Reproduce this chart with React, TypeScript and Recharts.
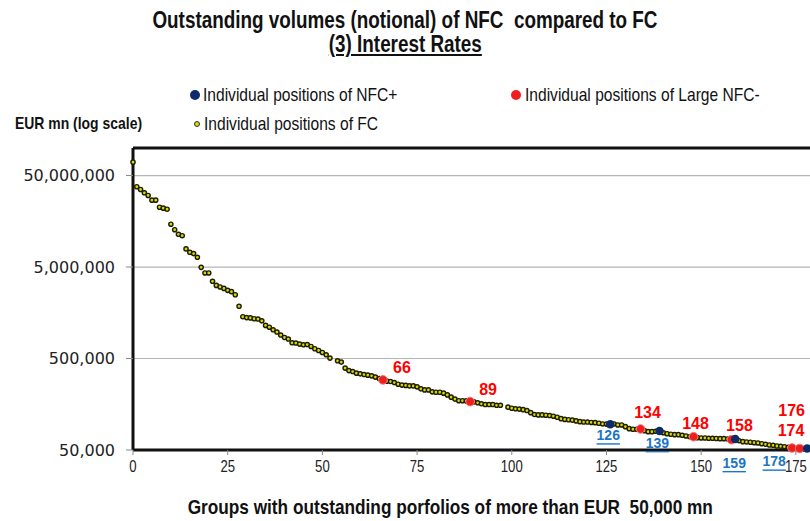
import { ScatterChart, Scatter, XAxis, YAxis, CartesianGrid, ReferenceLine } from "recharts";

const xTicks = [0, 25, 50, 75, 100, 125, 150, 175];
const yTicks = [50000, 500000, 5000000, 50000000];

// FC portfolio by rank (index = rank, null = no FC group at that rank)
const fcVolumes: (number | null)[] = [
  70000000, 37700000, 35200000, 32400000, 30300000, 26900000, 26900000, 22500000, 22000000, 21400000,
  14700000, 12800000, 11400000, 11000000, 7890000, 7240000, 7010000, 6390000, 4960000, 4310000,
  4310000, 3490000, 3150000, 3030000, 2920000, 2780000, 2690000, 2490000, 1860000, 1430000,
  1400000, 1390000, 1360000, 1350000, 1290000, 1150000, 1100000, 1030000, 973000, 902000,
  849000, 816000, 743000, 738000, 719000, 706000, 711000, 677000, 639000, 612000,
  582000, 549000, 505000, null, 472000, 457000, 393000, 369000, 360000, 346000,
  340000, 334000, 329000, 323000, 313000, 302000, null, 283000, 280000, 273000,
  262000, 256000, 254000, 251000, 251000, 245000, 233000, 227000, 227000, 216000,
  214000, 214000, 209000, 200000, 189000, 180000, 173000, 173000, 172000, null,
  168000, 164000, 160000, 157000, 157000, 157000, 154000, 154000, null, 147000,
  143000, 141000, 140000, 138000, 135000, 128000, 122000, 121000, 121000, 120000,
  119000, 117000, 114000, 110000, 108000, 107000, 106000, 104000, 102000, 101000,
  101000, 100000, 99500, 98000, 96300, 96000, null, 96300, 93900, 93900,
  90000, 85600, 84300, 84300, null, 81400, 79300, 79300, 80100, null,
  77300, 75400, 74300, 73600, 73600, 72400, 71200, 69900, null, 68200,
  67700, 67700, 67100, 67100, 66800, 66500, 66500, 66000, null, null,
  63200, 61700, 61200, 60800, 60100, 59700, 58600, 57700, 56700, 56300,
  55300, 54900, 54300, 53500, null, 52200, null, 51800, null,
];

const nfcPlusRanks = [126, 139, 159, 178];
const nfcPlusVolumes = [95600, 80700, 66000, 52000];

const largeNfcRanks = [66, 89, 134, 148, 158, 174, 176];
const largeNfcVolumes = [292000, 169000, 84900, 69900, 64800, 52600, 52000];

// where each rank label sits relative to its dot
const labelOffsets: Record<number, [number, number]> = {
  66: [19, -12],
  89: [18, -12],
  134: [7, -16],
  148: [2, -13],
  158: [8, -14],
  174: [-1, -17],
  176: [-8, -38],
  126: [-2, 11],
  139: [-2, 12],
  159: [-1, 24],
  178: [-33, 13],
};

const fcData = fcVolumes
  .map((v, i) => ({ rank: i, volume: v }))
  .filter((d) => d.volume !== null);
const nfcPlusData = nfcPlusRanks.map((r, i) => ({ rank: r, volume: nfcPlusVolumes[i] }));
const largeNfcData = largeNfcRanks.map((r, i) => ({ rank: r, volume: largeNfcVolumes[i] }));

const SANS = "'Liberation Sans', Arial, sans-serif";
const NARROW = 0.82;

// Arial Narrow look-alike: Liberation Sans squeezed horizontally
const Narrow = ({ children, style }: { children: any; style?: any }) => (
  <span style={{ display: "inline-block", transform: `scaleX(${NARROW})`, transformOrigin: "center", whiteSpace: "nowrap", ...style }}>
    {children}
  </span>
);

const XTick = (props: any) => (
  <g transform={`translate(${props.x},${props.y})`}>
    <text transform={`scale(${NARROW},1)`} textAnchor="middle" dy="0.71em" fill="#222" fontSize={16} fontFamily={SANS}>
      {props.payload.value}
    </text>
  </g>
);

const FcDot = (props: any) => (
  <circle cx={props.cx} cy={props.cy} r={2.1} fill="#d8d800" stroke="#1c1c00" strokeWidth={1.4} />
);

const RedDot = (props: any) => {
  const [dx, dy] = labelOffsets[props.payload.rank] || [0, -14];
  return (
    <g>
      <circle cx={props.cx} cy={props.cy} r={4.3} fill="#ef1e1e" stroke="#f57878" strokeWidth={1} />
      <text x={props.cx + dx} y={props.cy + dy} textAnchor="middle" dominantBaseline="central"
        fill="#ff0000" fontSize={16} fontWeight="bold" fontFamily={SANS}>
        {props.payload.rank}
      </text>
    </g>
  );
};

const BlueDot = (props: any) => {
  const [dx, dy] = labelOffsets[props.payload.rank] || [0, 12];
  return (
    <g>
      <circle cx={props.cx} cy={props.cy} r={4.3} fill="#0e2a68" />
      <text x={props.cx + dx} y={props.cy + dy} textAnchor="middle" dominantBaseline="central"
        fill="#1a75c8" fontSize={14} fontWeight="bold" textDecoration="underline" fontFamily={SANS}>
        {props.payload.rank}
      </text>
    </g>
  );
};

const abs = (left: number, top: number, extra: any = {}) => ({
  position: "absolute" as const, left, top, fontFamily: SANS, color: "#111", ...extra,
});

export default function App() {
  return (
    <div style={{ position: "fixed", left: 0, top: 0, width: 810, height: 521, overflow: "hidden", background: "#fff" }}>
      <div style={abs(5, 8, { width: 800, textAlign: "center", fontWeight: "bold", fontSize: 23, lineHeight: "24px" })}>
        <div><Narrow>Outstanding volumes (notional) of NFC&nbsp; compared to FC</Narrow></div>
        <div><Narrow style={{ textDecoration: "underline" }}>(3) Interest Rates</Narrow></div>
      </div>

      <div style={abs(190, 90, { width: 10, height: 10, borderRadius: 5, background: "#0e2a68" })} />
      <div style={abs(203, 84, { fontSize: 19, lineHeight: "22px" })}>
        <Narrow style={{ transformOrigin: "left center" }}>Individual positions of NFC+</Narrow>
      </div>
      <div style={abs(511, 90, { width: 10, height: 10, borderRadius: 5, background: "#ef1e1e" })} />
      <div style={abs(525, 84, { fontSize: 19, lineHeight: "22px" })}>
        <Narrow style={{ transformOrigin: "left center" }}>Individual positions of Large NFC-</Narrow>
      </div>
      <div style={abs(194, 121, { width: 4, height: 4, borderRadius: 3, background: "#d8d800", border: "1px solid #333" })} />
      <div style={abs(204, 113, { fontSize: 19, lineHeight: "22px" })}>
        <Narrow style={{ transformOrigin: "left center" }}>Individual positions of FC</Narrow>
      </div>
      <div style={abs(15, 114, { fontSize: 17, lineHeight: "20px", fontWeight: "bold" })}>
        <Narrow style={{ transformOrigin: "left center" }}>EUR mn (log scale)</Narrow>
      </div>

      <div style={abs(0, 495, { width: 900, textAlign: "center", fontWeight: "bold", fontSize: 21, lineHeight: "24px" })}>
        <Narrow>Groups with outstanding porfolios of more than EUR&nbsp; 50,000 mn</Narrow>
      </div>

      <div style={{ position: "absolute", left: 0, top: 0 }}>
        <ScatterChart width={815} height={521} margin={{ top: 148, right: 4, bottom: 41, left: 13 }}>
          <CartesianGrid vertical={false} stroke="#b5b5b5" strokeWidth={1.2} />
          <XAxis
            type="number"
            dataKey="rank"
            domain={[0, 179]}
            ticks={xTicks}
            height={30}
            tickSize={5}
            tickMargin={6}
            axisLine={{ stroke: "#111", strokeWidth: 3 }}
            tickLine={{ stroke: "#888" }}
            tick={<XTick />}
          />
          <YAxis
            type="number"
            dataKey="volume"
            scale="log"
            domain={[50000, 100000000]}
            ticks={yTicks}
            width={120}
            tickSize={7}
            tickMargin={11}
            axisLine={{ stroke: "#111", strokeWidth: 3 }}
            tickLine={{ stroke: "#888" }}
            tick={{ fill: "#222", fontSize: 16, fontFamily: "'DejaVu Sans', Verdana, sans-serif" }}
            tickFormatter={(v: number) => v.toLocaleString("en-US")}
          />
          <ReferenceLine y={100000000} stroke="#111" strokeWidth={3} />
          <Scatter data={fcData} shape={FcDot} isAnimationActive={false} />
          <Scatter data={largeNfcData} shape={RedDot} isAnimationActive={false} />
          <Scatter data={nfcPlusData} shape={BlueDot} isAnimationActive={false} />
        </ScatterChart>
      </div>
    </div>
  );
}
